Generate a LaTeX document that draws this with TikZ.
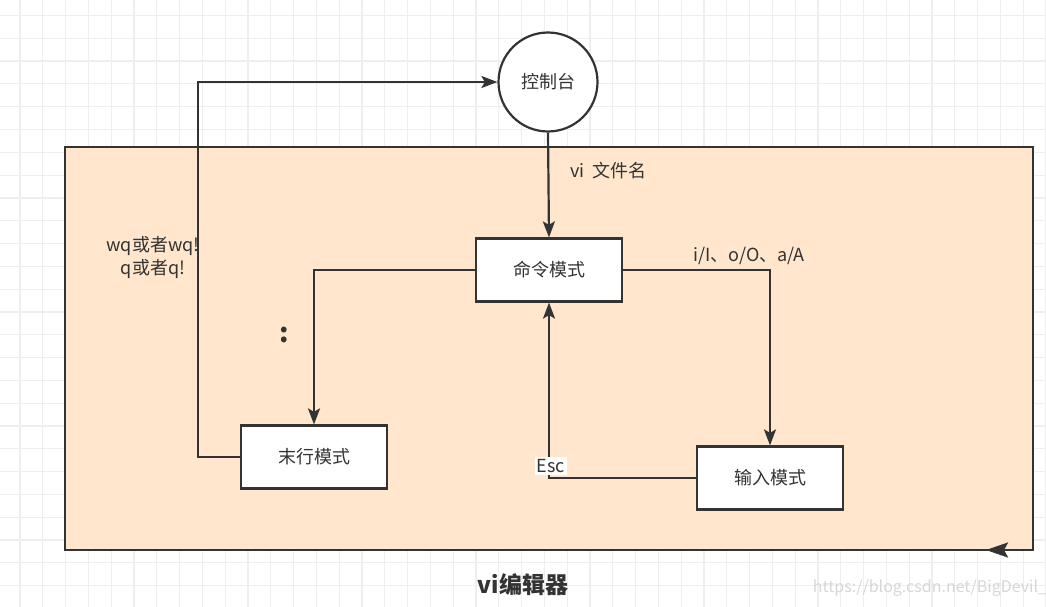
\documentclass[tikz,border=0pt]{standalone}
\usepackage{fontspec}
\setmainfont{Noto Sans CJK SC}
\usetikzlibrary{arrows.meta,positioning}
\definecolor{edgegray}{HTML}{333333}
\definecolor{peach}{HTML}{FFE6CC}
\definecolor{gridgray}{HTML}{EEEEEE}
\definecolor{markgray}{HTML}{D6D6D6}

\begin{document}
\begin{tikzpicture}[x=1pt,y=-1pt]  % 1 unit = 1 pixel of the reference, y grows downwards

    % Define some common styles
    \tikzset{
        gridline/.style={gridgray, line width=1.2pt},
        mode/.style={draw=edgegray, line width=2.2pt, fill=white, minimum width=146pt, minimum height=63pt, text=edgegray, font=\fontsize{18}{20}\selectfont},
        conn/.style={draw=edgegray, line width=2.2pt, -{Stealth[length=16pt, width=12pt, inset=3.5pt]}},
        lbl/.style={text=edgegray, font=\fontsize{18}{23}\selectfont, inner sep=1pt}
    }

    \useasboundingbox (0,0) rectangle (1046,607);

    % Background grid
    \foreach \k in {0,...,45}
        \draw[gridline] ({20+22.8*\k},0) -- ({20+22.8*\k},607);
    \foreach \k in {0,...,25}
        \draw[gridline] (0,{15.5+22.8*\k}) -- (1046,{15.5+22.8*\k});

    % Editor frame
    \draw[edgegray, line width=2.2pt, fill=peach] (65,147) rectangle (1033,550);
    \draw[edgegray, line width=2.6pt, -{Stealth[length=22pt, width=15pt, inset=4pt]}] (1033,550) -- (986,550);

    % Console and the three modes
    \node[circle, draw=edgegray, line width=2.2pt, fill=white, minimum size=99pt, text=edgegray, font=\fontsize{18}{20}\selectfont] (console) at (548,82) {控制台};
    \node[mode] (cmd) at (549,270) {命令模式};
    \node[mode] (last) at (314,457) {末行模式};
    \node[mode] (input) at (770,478) {输入模式};

    % Labels
    \node[lbl, anchor=west] (open) at (569,171) {vi\ \ 文件名};
    \node[lbl] (insert) at (749,256) {i/I、o/O、a/A};
    \node[text=edgegray, font=\bfseries\fontsize{27}{27}\selectfont] (colon) at (284,335) {:};
    \node[lbl, align=center] (save) at (153,257) {wq或者wq!\\q或者q!};

    % Connectors
    \coordinate (bend) at (198,457);
    \draw[conn] (console.south) -- (cmd.north);
    \draw[conn] (cmd.west) -| (last.north);
    \draw[conn] (cmd.east) -| (input.north);
    \draw[conn] (input.west) -| (cmd.south);
    \draw[conn] (last.west) -- (bend) |- (console.west);

    \node[lbl, fill=white, inner sep=2pt] (esc) at (551,466) {Esc};

    % Caption and watermark
    \node[text=edgegray, font=\bfseries\fontsize{23}{24}\selectfont] (title) at (523,585) {vi编辑器};
    \node[text=markgray, font=\fontsize{16}{18}\selectfont] (mark) at (930,588) {https://blog.csdn.net/BigDevil\_};

\end{tikzpicture}
\end{document}
